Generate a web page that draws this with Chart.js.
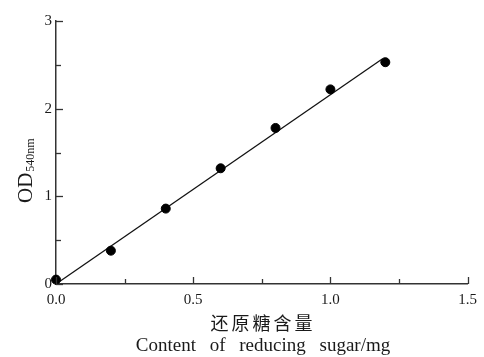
<!DOCTYPE html>
<html>
<head>
<meta charset="utf-8">
<script src="https://cdn.jsdelivr.net/npm/chart.js@4.4.1/dist/chart.umd.min.js"></script>
<style>
  html, body { margin: 0; padding: 0; background: #fff; }
  #wrap { width: 484px; height: 357px; position: relative; }
</style>
</head>
<body>
<div id="wrap"><canvas id="chart"></canvas></div>
<script>
// Data
const sugarMg = [0, 0.2, 0.4, 0.6, 0.8, 1.0, 1.2];
const od540 = [0.05, 0.38, 0.86, 1.32, 1.78, 2.22, 2.53];

// Fitted line end points
const fitX = [0, 1.19];
const fitY = [0, 2.57];

// Axis ticks
const xTicks = [0, 0.5, 1.0, 1.5];
const xMinorTicks = [0.25, 0.75, 1.25];
const yTicks = [0, 1, 2, 3];
const yMinorTicks = [0.5, 1.5, 2.5];

const xTitleCn = '还原糖含量';
const xTitleEn = 'Content of reducing sugar/mg';
const yTitleMain = 'OD';
const yTitleSub = '540nm';

const ink = '#1a1a1a';
const axisColor = '#333';
const serif = "'Liberation Serif', 'DejaVu Serif', serif";

// Tick marks point into the plot, major and minor
const inwardTicks = {
    id: 'inwardTicks',
    afterDraw(chart) {
        const { ctx, scales: { x, y } } = chart;
        ctx.save();
        ctx.strokeStyle = axisColor;
        ctx.lineWidth = 1.3;
        const bottom = y.getPixelForValue(0);
        const left = x.getPixelForValue(0);
        const tickX = (v, len) => {
            const px = Math.round(x.getPixelForValue(v)) + 0.5;
            ctx.beginPath();
            ctx.moveTo(px, bottom);
            ctx.lineTo(px, bottom - len);
            ctx.stroke();
        };
        const tickY = (v, len) => {
            const py = Math.round(y.getPixelForValue(v)) + 0.5;
            ctx.beginPath();
            ctx.moveTo(left, py);
            ctx.lineTo(left + len, py);
            ctx.stroke();
        };
        xTicks.forEach(v => tickX(v, 7));
        xMinorTicks.forEach(v => tickX(v, 5));
        yTicks.forEach(v => tickY(v, 7));
        yMinorTicks.forEach(v => tickY(v, 5));
        ctx.restore();
    }
};

// Axis titles (two-line x title, y title with subscript)
const axisTitles = {
    id: 'axisTitles',
    afterDraw(chart) {
        const { ctx } = chart;
        ctx.save();
        ctx.fillStyle = ink;
        ctx.textAlign = 'center';
        ctx.textBaseline = 'middle';

        ctx.font = "18px 'Noto Sans CJK SC', sans-serif";
        ctx.letterSpacing = '3px';
        ctx.fillText(xTitleCn, 263, 323);
        ctx.letterSpacing = '0px';

        ctx.font = '19px ' + serif;
        ctx.wordSpacing = '9px';
        ctx.fillText(xTitleEn, 263, 346);
        ctx.wordSpacing = '0px';

        ctx.translate(32, 203);
        ctx.rotate(-Math.PI / 2);
        ctx.textAlign = 'left';
        ctx.textBaseline = 'alphabetic';
        ctx.font = '21px ' + serif;
        ctx.fillText(yTitleMain, 0, 0);
        const w = ctx.measureText(yTitleMain).width;
        ctx.font = '12px ' + serif;
        ctx.fillText(yTitleSub, w + 1, 2);
        ctx.restore();
    }
};

const ctx = document.getElementById('chart').getContext('2d');
new Chart(ctx, {
    type: 'scatter',
    data: {
        datasets: [
            {
                label: 'OD540nm',
                data: sugarMg.map((v, i) => ({ x: v, y: od540[i] })),
                backgroundColor: '#000',
                borderColor: '#000',
                pointRadius: 4.5,
                showLine: false,
                clip: false
            },
            {
                label: 'fit',
                data: fitX.map((v, i) => ({ x: v, y: fitY[i] })),
                borderColor: '#111',
                borderWidth: 1.3,
                pointRadius: 0,
                showLine: true,
                tension: 0,
                clip: false
            }
        ]
    },
    options: {
        responsive: true,
        maintainAspectRatio: false,
        animation: false,
        layout: { padding: { top: 21, right: 10, left: 0, bottom: 0 } },
        plugins: {
            legend: { display: false },
            tooltip: { enabled: false }
        },
        scales: {
            x: {
                type: 'linear',
                min: 0,
                max: 1.5,
                afterFit: (scale) => { scale.height = 73; },
                afterBuildTicks: (scale) => { scale.ticks = xTicks.map(v => ({ value: v })); },
                grid: { display: false, drawTicks: false },
                border: { display: true, color: axisColor, width: 1.5 },
                ticks: {
                    autoSkip: false,
                    maxRotation: 0,
                    padding: 7,
                    color: ink,
                    font: { family: serif, size: 15 },
                    callback: (v) => Number(v).toFixed(1)
                }
            },
            y: {
                type: 'linear',
                min: 0,
                max: 3,
                afterFit: (scale) => { scale.width = 56; },
                afterBuildTicks: (scale) => { scale.ticks = yTicks.map(v => ({ value: v })); },
                grid: { display: false, drawTicks: false },
                border: { display: true, color: axisColor, width: 1.5 },
                ticks: {
                    autoSkip: false,
                    padding: 4,
                    color: ink,
                    font: { family: serif, size: 15 },
                    callback: (v) => String(v)
                }
            }
        }
    },
    plugins: [inwardTicks, axisTitles]
});
</script>
</body>
</html>
